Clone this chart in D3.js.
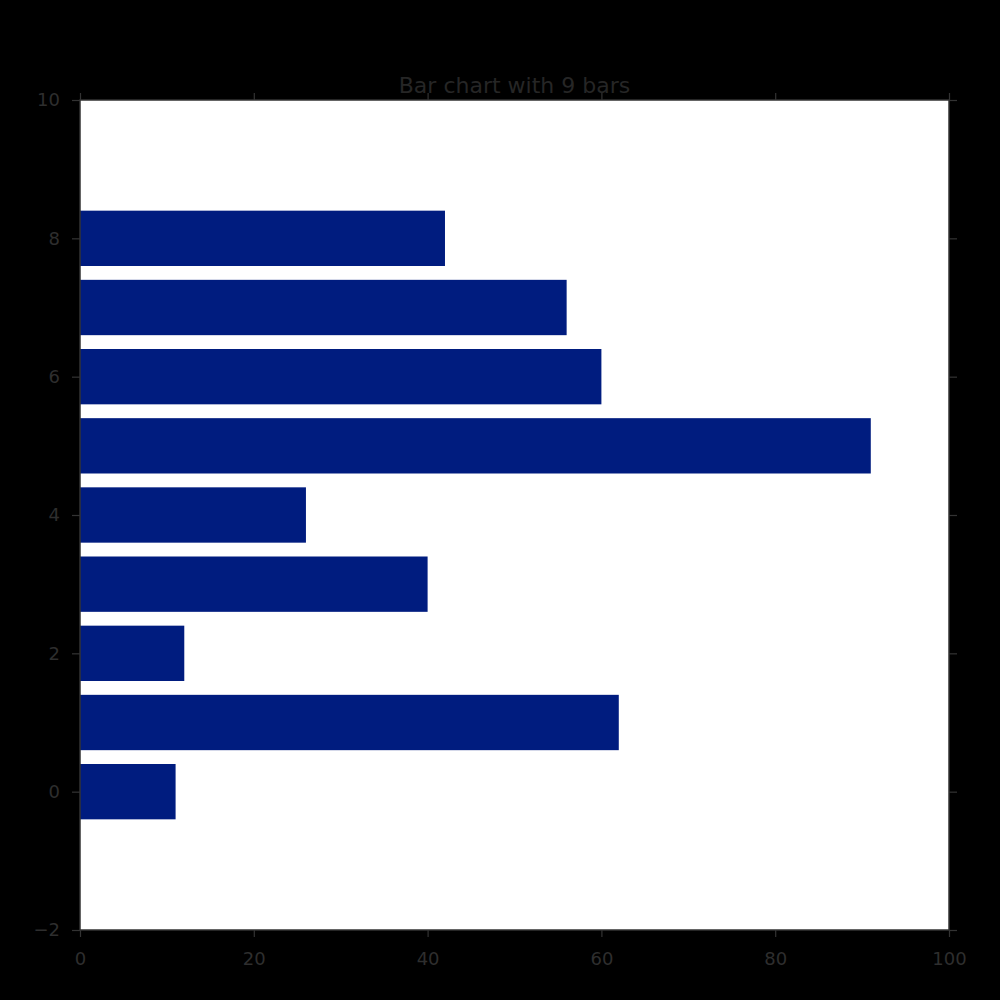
<!DOCTYPE html>
<html><head><meta charset="utf-8">
<script src="https://cdn.jsdelivr.net/npm/d3@7"></script>
<style>html,body{margin:0;padding:0;background:#000;}svg{display:block;}</style>
</head><body>
<script>
const categories = [0, 1, 2, 3, 4, 5, 6, 7, 8];
const values = [11, 62, 12, 40, 26, 91, 60, 56, 42];
const xTicks = [0, 20, 40, 60, 80, 100];
const yTicks = [-2, 0, 2, 4, 6, 8, 10];
const titleText = "Bar chart with 9 bars";

const W = 1000, H = 1000;
const m = {left: 80, right: 51, top: 100, bottom: 70};
const svg = d3.select("body").append("svg").attr("width", W).attr("height", H);
svg.append("rect").attr("width", W).attr("height", H).attr("fill", "#000");

const x = d3.scaleLinear().domain([0, 100]).range([m.left, W - m.right]);
const y = d3.scaleLinear().domain([-2, 10]).range([H - m.bottom, m.top]);

svg.append("rect").attr("x", x(0)).attr("y", y(10))
  .attr("width", x(100) - x(0)).attr("height", y(-2) - y(10)).attr("fill", "#fff");

svg.selectAll("rect.bar").data(categories).enter().append("rect")
  .attr("class", "bar")
  .attr("x", x(0))
  .attr("y", d => y(d + 0.4))
  .attr("width", (d, i) => x(values[i]) - x(0))
  .attr("height", d => y(d - 0.4) - y(d + 0.4))
  .attr("fill", "#001c7f");

const tc = "#333";
const fs = "18px";
function style(g, showLabels) {
  g.select(".domain").remove();
  g.selectAll(".tick line").attr("stroke", tc).attr("stroke-width", 1.2);
  g.selectAll(".tick text").attr("fill", "#2e2e2e").style("font-size", fs)
    .style("font-family", "DejaVu Sans").attr("opacity", showLabels ? 1 : 0);
}
svg.append("g").attr("transform", `translate(0,${y(-2)})`)
  .call(d3.axisBottom(x).tickValues(xTicks).tickSize(7).tickPadding(15).tickFormat(d3.format("d")))
  .call(g => style(g, true));
svg.append("g").attr("transform", `translate(0,${y(10)})`)
  .call(d3.axisTop(x).tickValues(xTicks).tickSize(7).tickFormat(""))
  .call(g => style(g, false));
svg.append("g").attr("transform", `translate(${x(0)},0)`)
  .call(d3.axisLeft(y).tickValues(yTicks).tickSize(8).tickPadding(12).tickFormat(d => d < 0 ? "\u2212" + Math.abs(d) : d))
  .call(g => style(g, true));
svg.append("g").attr("transform", `translate(${x(100)},0)`)
  .call(d3.axisRight(y).tickValues(yTicks).tickSize(8).tickFormat(""))
  .call(g => style(g, false));

svg.append("rect").attr("x", x(0)).attr("y", y(10))
  .attr("width", x(100) - x(0)).attr("height", y(-2) - y(10))
  .attr("fill", "none").attr("stroke", tc).attr("stroke-width", 1.5);

svg.append("text").attr("x", (x(0) + x(100)) / 2).attr("y", 93)
  .attr("text-anchor", "middle").attr("fill", "#262626")
  .style("font-family", "DejaVu Sans").style("font-size", "22px")
  .text(titleText);
</script>
</body></html>
